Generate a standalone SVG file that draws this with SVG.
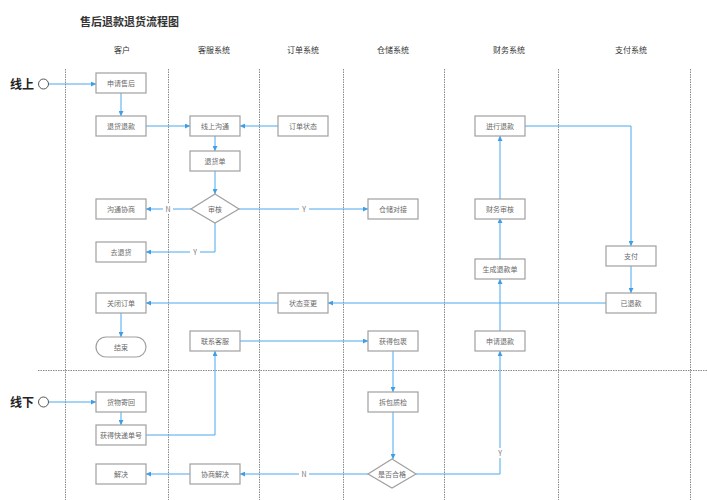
<svg xmlns="http://www.w3.org/2000/svg" width="707" height="500" viewBox="0 0 707 500">
<defs>
<marker id="arr" viewBox="0 0 6 6" refX="6" refY="3" markerWidth="5" markerHeight="5" orient="auto" markerUnits="userSpaceOnUse">
<path d="M0,0 L6,3 L0,6 z" fill="#3f9fe6"/>
</marker>
<style>
text{font-family:"Noto Sans CJK SC","Noto Sans",sans-serif;}
.title{font-size:11px;font-weight:bold;fill:#333;}
.hdr{font-size:8px;fill:#333;text-anchor:middle;}
.lane{font-size:12px;font-weight:bold;fill:#222;}
.box{fill:#fff;stroke:#a0a0a0;stroke-width:1.2;}
.t{font-size:7px;fill:#6a6a6a;text-anchor:middle;dominant-baseline:central;}
.dash{stroke:#8a8a8a;stroke-width:1;stroke-dasharray:1.5,1;fill:none;}
.c{stroke:#4aa8ee;stroke-width:1;fill:none;marker-end:url(#arr);}
.lbl{font-size:7px;fill:#777;text-anchor:middle;dominant-baseline:central;}
.lb{fill:#fff;}
</style>
</defs>
<rect width="707" height="500" fill="#fff"/>
<text class="title" x="80" y="26">售后退款退货流程图</text>
<g id="headers">
<text class="hdr" x="122" y="53">客户</text>
<text class="hdr" x="214" y="53">客服系统</text>
<text class="hdr" x="303" y="53">订单系统</text>
<text class="hdr" x="393" y="53">仓储系统</text>
<text class="hdr" x="509" y="53">财务系统</text>
<text class="hdr" x="631" y="53">支付系统</text>
</g>
<g id="grid">
<line class="dash" x1="65.5" y1="69" x2="65.5" y2="500"/>
<line class="dash" x1="168.5" y1="69" x2="168.5" y2="500"/>
<line class="dash" x1="259.5" y1="69" x2="259.5" y2="500"/>
<line class="dash" x1="343.5" y1="69" x2="343.5" y2="500"/>
<line class="dash" x1="444.5" y1="69" x2="444.5" y2="500"/>
<line class="dash" x1="558.5" y1="69" x2="558.5" y2="500"/>
<line class="dash" x1="690.5" y1="69" x2="690.5" y2="500"/>
<line class="dash" x1="38" y1="370.5" x2="707" y2="370.5"/>
</g>
<g id="lane-online">
<text class="lane" x="10" y="89">线上</text>
<circle cx="43.5" cy="84" r="5" fill="#fff" stroke="#555" stroke-width="1"/>
</g>
<g id="lane-offline">
<text class="lane" x="10" y="407">线下</text>
<circle cx="43.5" cy="402" r="5" fill="#fff" stroke="#555" stroke-width="1"/>
</g>
<g id="connectors">
<path class="c" d="M49,84 H96"/>
<path class="c" d="M121,93 V116"/>
<path class="c" d="M146,126 H190"/>
<path class="c" d="M278,126 H240"/>
<path class="c" d="M215,136 V151"/>
<path class="c" d="M215,171 V194"/>
<path class="c" d="M191,209 H146"/>
<path class="c" d="M215,223 V252 H146"/>
<path class="c" d="M239,209 H368"/>
<path class="c" d="M525,126 H631 V246"/>
<path class="c" d="M631,266 V293"/>
<path class="c" d="M606,303 H328"/>
<path class="c" d="M278,303 H146"/>
<path class="c" d="M121,313 V337"/>
<path class="c" d="M500,331 V279"/>
<path class="c" d="M500,259 V218"/>
<path class="c" d="M500,199 V136"/>
<path class="c" d="M240,341 H368"/>
<path class="c" d="M393,351 V392"/>
<path class="c" d="M393,412 V459"/>
<path class="c" d="M416,474 H500 V351"/>
<path class="c" d="M368,474 H240"/>
<path class="c" d="M190,474 H146"/>
<path class="c" d="M49,402 H96"/>
<path class="c" d="M121,412 V425"/>
<path class="c" d="M146,435 H215 V351"/>
<rect class="lb" x="163" y="204" width="10" height="10"/>
<text class="lbl" x="168" y="209">N</text>
<rect class="lb" x="190" y="247" width="10" height="10"/>
<text class="lbl" x="195" y="252">Y</text>
<rect class="lb" x="299" y="204" width="10" height="10"/>
<text class="lbl" x="304" y="209">Y</text>
<rect class="lb" x="495" y="448" width="10" height="10"/>
<text class="lbl" x="500" y="453">Y</text>
<rect class="lb" x="299" y="469" width="10" height="10"/>
<text class="lbl" x="304" y="474">N</text>
</g>
<g id="n-apply"><rect class="box" x="96" y="73" width="50" height="20"/><text class="t" x="121" y="83">申请售后</text></g>
<g id="n-refund-return"><rect class="box" x="96" y="116" width="50" height="20"/><text class="t" x="121" y="126">退货退款</text></g>
<g id="n-online-comm"><rect class="box" x="190" y="116" width="50" height="20"/><text class="t" x="215" y="126">线上沟通</text></g>
<g id="n-order-status"><rect class="box" x="278" y="116" width="50" height="20"/><text class="t" x="303" y="126">订单状态</text></g>
<g id="n-return-order"><rect class="box" x="190" y="151" width="50" height="20"/><text class="t" x="215" y="161">退货单</text></g>
<g id="n-review"><polygon class="box" points="215,194 239,209 215,223 191,209"/><text class="t" x="215" y="209">审核</text></g>
<g id="n-negotiate"><rect class="box" x="96" y="199" width="50" height="20"/><text class="t" x="121" y="209">沟通协商</text></g>
<g id="n-go-return"><rect class="box" x="96" y="242" width="50" height="20"/><text class="t" x="121" y="252">去退货</text></g>
<g id="n-warehouse"><rect class="box" x="368" y="199" width="50" height="20"/><text class="t" x="393" y="209">仓储对接</text></g>
<g id="n-do-refund"><rect class="box" x="475" y="116" width="50" height="20"/><text class="t" x="500" y="126">进行退款</text></g>
<g id="n-fin-review"><rect class="box" x="475" y="199" width="50" height="20"/><text class="t" x="500" y="209">财务审核</text></g>
<g id="n-gen-refund"><rect class="box" x="475" y="259" width="50" height="20"/><text class="t" x="500" y="269">生成退款单</text></g>
<g id="n-pay"><rect class="box" x="606" y="246" width="50" height="20"/><text class="t" x="631" y="256">支付</text></g>
<g id="n-refunded"><rect class="box" x="606" y="293" width="50" height="20"/><text class="t" x="631" y="303">已退款</text></g>
<g id="n-close"><rect class="box" x="96" y="293" width="50" height="20"/><text class="t" x="121" y="303">关闭订单</text></g>
<g id="n-end"><rect class="box" x="96" y="337" width="50" height="20" rx="10" ry="10"/><text class="t" x="121" y="347">结束</text></g>
<g id="n-contact"><rect class="box" x="190" y="331" width="50" height="20"/><text class="t" x="215" y="341">联系客服</text></g>
<g id="n-status-change"><rect class="box" x="278" y="293" width="50" height="20"/><text class="t" x="303" y="303">状态变更</text></g>
<g id="n-get-package"><rect class="box" x="368" y="331" width="50" height="20"/><text class="t" x="393" y="341">获得包裹</text></g>
<g id="n-apply-refund"><rect class="box" x="475" y="331" width="50" height="20"/><text class="t" x="500" y="341">申请退款</text></g>
<g id="n-ship-back"><rect class="box" x="96" y="392" width="50" height="20"/><text class="t" x="121" y="402">货物寄回</text></g>
<g id="n-tracking"><rect class="box" x="96" y="425" width="50" height="20"/><text class="t" x="121" y="435">获得快递单号</text></g>
<g id="n-solved"><rect class="box" x="96" y="464" width="50" height="20"/><text class="t" x="121" y="474">解决</text></g>
<g id="n-nego-solve"><rect class="box" x="190" y="464" width="50" height="20"/><text class="t" x="215" y="474">协商解决</text></g>
<g id="n-inspect"><rect class="box" x="368" y="392" width="50" height="20"/><text class="t" x="393" y="402">拆包质检</text></g>
<g id="n-qualified"><polygon class="box" points="392,459 416,474 392,488 368,474"/><text class="t" x="392" y="474">是否合格</text></g>
</svg>
